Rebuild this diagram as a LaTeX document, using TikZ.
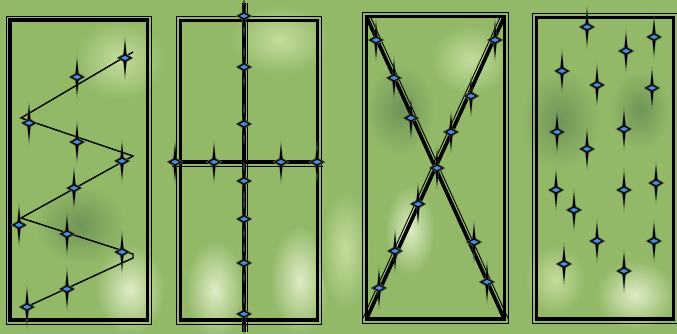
\documentclass[tikz,border=0pt]{standalone}
\usetikzlibrary{positioning}

\definecolor{bggreen}{RGB}{146,184,104}
\definecolor{bglight}{RGB}{196,220,156}
\definecolor{bgpale}{RGB}{222,236,196}
\definecolor{bgdark}{RGB}{112,148,86}
\definecolor{leafblue}{RGB}{74,140,214}
\definecolor{spikegray}{RGB}{88,104,72}

\begin{document}
\begin{tikzpicture}[
    x=1pt, y=-1pt,
    bed/.style={draw, rectangle, line width=3.5pt, inner sep=0pt, outer sep=0pt},
    bedouter/.style={line width=0.9pt},
    row/.style={line width=3.6pt},
    rowthin/.style={line width=0.9pt},
    zigzag/.style={line width=1.4pt, line join=miter},
    blob/.style={inner color=#1, outer color=bggreen},
    plant/.pic={
        \fill[spikegray] (0,-22) -- (1.7,-4) -- (8.5,0) -- (1.7,4) -- (0,22) -- (-1.7,4) -- (-8.5,0) -- (-1.7,-4) -- cycle;
        \fill[black] (0,-17) -- (1.5,-3) -- (7,0) -- (1.5,3) -- (0,17) -- (-1.5,3) -- (-7,0) -- (-1.5,-3) -- cycle;
        \filldraw[fill=leafblue, draw=black, line width=0.4pt] (-5,0) -- (0,-2.5) -- (5,0) -- (0,2.5) -- cycle;
    }
]
    \useasboundingbox (0,0) rectangle (677,334);

    % Background
    \fill[bggreen] (0,0) rectangle (677,334);
    \shade[blob=bgdark] (80,225) ellipse (45 and 40);
    \shade[blob=bgdark] (400,110) ellipse (35 and 45);
    \shade[blob=bgdark] (560,120) ellipse (40 and 50);
    \shade[blob=bgdark] (640,110) ellipse (30 and 40);
    \shade[blob=bglight] (120,60) ellipse (45 and 40);
    \shade[blob=bglight] (280,40) ellipse (50 and 35);
    \shade[blob=bglight] (470,60) ellipse (40 and 35);
    \shade[blob=bgpale] (130,290) ellipse (35 and 45);
    \shade[blob=bgpale] (215,290) ellipse (30 and 50);
    \shade[blob=bgpale] (300,280) ellipse (30 and 55);
    \shade[blob=bgpale] (410,230) ellipse (25 and 45);
    \shade[blob=bglight] (345,250) ellipse (25 and 60);
    \shade[blob=bgpale] (635,295) ellipse (40 and 35);
    \shade[blob=bglight] (555,280) ellipse (30 and 35);

    % Beds
    \node (bedA) [bed, minimum width=137.5pt, minimum height=300pt] at (78.75,170) {};
    \node (bedB) [bed, minimum width=137pt, minimum height=299.5pt] at (249,170.25) {};
    \node (bedC) [bed, minimum width=137.8pt, minimum height=302.3pt] at (435.4,167.85) {};
    \node (bedD) [bed, minimum width=136.6pt, minimum height=301.3pt] at (605,168.35) {};
    \foreach \b in {bedA, bedB, bedC, bedD}
        \draw[bedouter] ([shift={(-4,-4)}]\b.north west) rectangle ([shift={(4,4)}]\b.south east);

    % Zigzag row
    \coordinate (z1) at (133,52);
    \coordinate (z2) at (21,118);
    \coordinate (z3) at (133,156);
    \coordinate (z4) at (21,218);
    \coordinate (z5) at (133,254);
    \coordinate (z6) at (133,258);
    \coordinate (z7) at (24,308);
    \draw[zigzag] (z1) -- (z2) -- (z3) -- (z4) -- (z5) -- (z6) -- (z7);

    % Cross rows
    \coordinate (vtop) at (244,3);
    \coordinate (vbot) at (244,332);
    \coordinate (hleft) at (172,162);
    \coordinate (hright) at (323,162);
    \draw[row] (vtop) -- (vbot);
    \draw[rowthin] ([xshift=3pt]vtop) -- ([xshift=3pt]vbot);
    \draw[row] (hleft) -- (hright);
    \draw[rowthin] ([yshift=-4]hleft) -- ([yshift=-4]hright);

    % Diagonal rows
    \draw[row] (bedC.north west) -- (bedC.south east);
    \draw[rowthin] ([xshift=4pt]bedC.north west) -- ([xshift=4pt]bedC.south east);
    \draw[row] (bedC.north east) -- (bedC.south west);
    \draw[rowthin] ([xshift=-4pt]bedC.north east) -- ([xshift=-4pt]bedC.south west);

    % Plants
    \foreach \p in {(125,58), (77,77), (29,123), (77,142), (122,161), (74,188),
                    (19,225), (67,234), (122,252), (67,289), (27,307)}
        \pic at \p {plant};
    \foreach \p in {(244,16), (244,67), (244,124), (244,181), (244,219), (244,263), (244,314),
                    (175,162), (214,162), (281,162), (317,162)}
        \pic at \p {plant};
    \foreach \p in {(376,40), (394,78), (411,118), (437,168), (418,204), (395,251), (379,288),
                    (495,40), (471,96), (451,132), (474,242), (487,282)}
        \pic at \p {plant};
    \foreach \p in {(587,27), (626,51), (654,37), (562,71), (597,85), (652,88), (557,132),
                    (624,129), (587,149), (556,190), (624,190), (656,183), (574,210),
                    (597,241), (654,241), (564,264), (624,271)}
        \pic at \p {plant};

\end{tikzpicture}
\end{document}
